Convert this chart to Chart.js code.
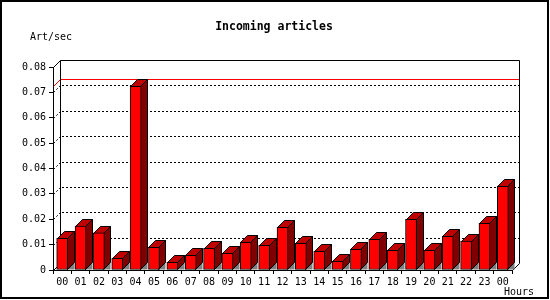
<!DOCTYPE html>
<html lang="en">
<head>
    <meta charset="UTF-8">
    <title>Incoming articles</title>
    <script src="https://cdn.jsdelivr.net/npm/chart.js"></script>
    <style>
        body {
            margin: 0;
            background: #ffffff;
        }
        canvas {
            display: block;
        }
    </style>
</head>
<body>
    <canvas id="chartCanvas" width="550" height="300"></canvas>

    <script>
        // data
        const hours = ['00', '01', '02', '03', '04', '05', '06', '07', '08', '09', '10', '11',
                       '12', '13', '14', '15', '16', '17', '18', '19', '20', '21', '22', '23', '00'];
        const artPerSec = [0.0125, 0.0173, 0.0146, 0.0046, 0.0724, 0.0089, 0.0030, 0.0058,
                           0.0085, 0.0066, 0.0109, 0.0097, 0.0168, 0.0105, 0.0074, 0.0034,
                           0.0081, 0.0121, 0.0078, 0.0200, 0.0078, 0.0133, 0.0114, 0.0184, 0.0330];
        const yMax = 0.08;
        const yStep = 0.01;

        const DEPTH = 7;
        const monoFont = 'DejaVu Sans Mono';

        // back wall, dotted grid, max line and the 3D faces of the bars
        const depthPlugin = {
            id: 'depth',
            beforeDatasetsDraw(chart) {
                const ctx = chart.ctx;
                const area = chart.chartArea;
                const y = chart.scales.y;
                const L = Math.round(area.left), R = Math.round(area.right);
                const T = Math.round(area.top), B = Math.round(area.bottom);
                ctx.save();
                ctx.lineWidth = 1;

                // dotted grid on the back wall
                ctx.strokeStyle = '#000';
                ctx.setLineDash([2, 2]);
                for (let v = yStep; v < yMax - yStep / 2; v += yStep) {
                    const py = Math.round(y.getPixelForValue(v)) + 0.5;
                    ctx.beginPath();
                    ctx.moveTo(L + 0.5, py);
                    ctx.lineTo(L + DEPTH + 0.5, py - DEPTH);
                    ctx.moveTo(L + DEPTH + 2, py - DEPTH);
                    ctx.lineTo(R + DEPTH, py - DEPTH);
                    ctx.stroke();
                }
                ctx.setLineDash([]);

                // max line
                const maxV = Math.max(...artPerSec);
                const my = Math.round(y.getPixelForValue(maxV)) + 0.5;
                ctx.strokeStyle = '#ff0000';
                ctx.beginPath();
                ctx.moveTo(L + 0.5, my);
                ctx.lineTo(L + DEPTH + 0.5, my - DEPTH);
                ctx.lineTo(R + DEPTH + 0.5, my - DEPTH);
                ctx.stroke();

                // back wall frame
                ctx.strokeStyle = '#000';
                ctx.beginPath();
                ctx.moveTo(L + 0.5, T + 0.5);
                ctx.lineTo(L + DEPTH + 0.5, T - DEPTH + 0.5);
                ctx.lineTo(R + DEPTH + 0.5, T - DEPTH + 0.5);
                ctx.lineTo(R + DEPTH + 0.5, B - DEPTH + 0.5);
                ctx.lineTo(R + 0.5, B + 0.5);
                ctx.moveTo(L + DEPTH + 0.5, T - DEPTH + 0.5);
                ctx.lineTo(L + DEPTH + 0.5, B - DEPTH + 0.5);
                ctx.lineTo(L + 0.5, B + 0.5);
                ctx.stroke();

                // top and side faces of each bar
                const meta = chart.getDatasetMeta(0);
                meta.data.forEach(bar => {
                    const p = bar.getProps(['x', 'y', 'base', 'width'], true);
                    const xl = Math.round(p.x - p.width / 2) + 0.5;
                    const xr = Math.round(p.x + p.width / 2) - 0.5;
                    const yt = Math.round(p.y) + 0.5;
                    const yb = Math.round(p.base) - 0.5;

                    ctx.fillStyle = '#808080';
                    ctx.beginPath();
                    ctx.moveTo(xr, yb);
                    ctx.lineTo(xr + DEPTH, yb - DEPTH);
                    ctx.lineTo(xr + DEPTH, yb);
                    ctx.closePath();
                    ctx.fill();

                    ctx.fillStyle = '#800000';
                    ctx.beginPath();
                    ctx.moveTo(xr, yt);
                    ctx.lineTo(xr + DEPTH, yt - DEPTH);
                    ctx.lineTo(xr + DEPTH, yb - DEPTH);
                    ctx.lineTo(xr, yb);
                    ctx.closePath();
                    ctx.fill();
                    ctx.stroke();

                    ctx.fillStyle = '#c00000';
                    ctx.beginPath();
                    ctx.moveTo(xl, yt);
                    ctx.lineTo(xl + DEPTH, yt - DEPTH);
                    ctx.lineTo(xr + DEPTH, yt - DEPTH);
                    ctx.lineTo(xr, yt);
                    ctx.closePath();
                    ctx.fill();
                    ctx.stroke();
                });
                ctx.restore();
            },
            afterDraw(chart) {
                const ctx = chart.ctx;
                ctx.save();
                ctx.fillStyle = '#000';
                ctx.textBaseline = 'middle';

                ctx.font = 'bold 11.5px "' + monoFont + '"';
                ctx.textAlign = 'center';
                ctx.fillText('Incoming articles', 274, 27);

                ctx.font = '10px "' + monoFont + '"';
                ctx.textAlign = 'left';
                ctx.fillText('Art/sec', 30, 37);
                ctx.fillText('Hours', 504, 292);

                // outer frame
                ctx.strokeStyle = '#000';
                ctx.lineWidth = 2;
                ctx.strokeRect(1, 1, 547, 297);
                ctx.restore();
            }
        };

        const ctx = document.getElementById('chartCanvas').getContext('2d');
        const chart = new Chart(ctx, {
            type: 'bar',
            data: {
                labels: hours,
                datasets: [{
                    label: 'Art/sec',
                    data: artPerSec,
                    backgroundColor: '#ff0000',
                    borderColor: '#000000',
                    borderWidth: 1,
                    borderSkipped: false,
                    barThickness: 11
                }]
            },
            options: {
                responsive: false,
                animation: false,
                devicePixelRatio: 1,
                layout: {
                    padding: { top: 67, right: 38, left: 0, bottom: 0 }
                },
                plugins: {
                    legend: { display: false },
                    tooltip: { enabled: false },
                    title: { display: false }
                },
                scales: {
                    x: {
                        offset: true,
                        grid: {
                            offset: true,
                            drawOnChartArea: false,
                            tickLength: 4,
                            tickColor: '#000'
                        },
                        border: { display: true, color: '#000' },
                        ticks: {
                            color: '#000',
                            font: { family: monoFont, size: 10 },
                            padding: 2,
                            autoSkip: false,
                            maxRotation: 0
                        },
                        afterFit(scale) {
                            scale.height = 30;
                        }
                    },
                    y: {
                        min: 0,
                        max: yMax,
                        grid: {
                            drawOnChartArea: false,
                            tickLength: 4,
                            tickColor: '#000'
                        },
                        border: { display: true, color: '#000' },
                        ticks: {
                            stepSize: yStep,
                            color: '#000',
                            font: { family: monoFont, size: 10 },
                            padding: 3,
                            callback: v => v === 0 ? '0' : v.toFixed(2)
                        },
                        afterFit(scale) {
                            scale.width = 53;
                        }
                    }
                }
            },
            plugins: [depthPlugin]
        });
    </script>
</body>
</html>
